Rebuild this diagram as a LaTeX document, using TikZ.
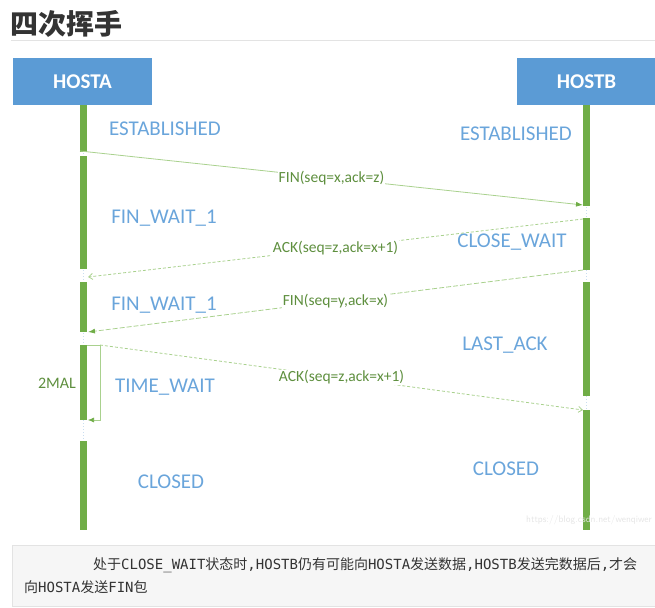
\documentclass[tikz,border=0pt]{standalone}
\usepackage{fontspec}
\setmainfont{Carlito}
\setmonofont{DejaVu Sans Mono}
\newfontfamily\cjk{Noto Sans CJK SC}
\usetikzlibrary{arrows.meta,positioning}
\definecolor{hostblue}{HTML}{5B9BD5}
\definecolor{stateblue}{HTML}{6AA5DB}
\definecolor{lifegreen}{HTML}{70AD47}
\definecolor{msggreen}{HTML}{A9D18E}
\definecolor{labgreen}{HTML}{5E8F3E}
\definecolor{gapblue}{HTML}{C9DDF0}
\definecolor{codebg}{HTML}{F6F6F6}
\definecolor{codeline}{HTML}{E3E3E3}
\tikzset{x=1pt, y=-1pt}
\tikzset{host/.style={fill=hostblue, text=white, inner sep=0pt, minimum height=47pt,
    font=\fontsize{21}{24}\selectfont\bfseries}}
\tikzset{state/.style={text=stateblue, inner sep=0pt, font=\fontsize{21}{24}\selectfont}}
\tikzset{lab/.style={fill=white, text=labgreen, inner sep=1pt, font=\fontsize{15.5}{17}\selectfont}}
\tikzset{life/.style={draw=lifegreen, line width=7pt}}
\tikzset{gap/.style={draw=gapblue, line width=1pt, dotted}}
\tikzset{fin/.style={draw=msggreen, line width=0.8pt, -{Latex[length=7pt,width=5pt,color=lifegreen]}}}
\tikzset{ack/.style={draw=msggreen, line width=0.8pt, dash pattern=on 3pt off 2pt,
    -{Straight Barb[length=4pt,width=6pt,color=msggreen]}}}

\begin{document}
\begin{tikzpicture}
        \useasboundingbox (0,0) rectangle (655,607);
        % title
        \node (title) [anchor=west, text=black!80, inner sep=0pt] at (10,24) {\cjk\bfseries\fontsize{28}{30}\selectfont 四次挥手};
        \draw[codeline] (11,40) -- (655,40);
        % hosts
        \node (ha) [host, minimum width=139pt] at (82.5,81.5) {HOSTA};
        \node (hb) [host, minimum width=139pt] at (586.5,81.5) {HOSTB};
        % lifelines
        \draw[gap] (83.5,105) -- (83.5,530);
        \draw[gap] (586.5,105) -- (586.5,530);
        \foreach \t/\b in {105/152, 156/269, 282/332, 345/420, 441/530}
            \draw[life] (83.5,\t) -- (83.5,\b);
        \foreach \t/\b in {105/206, 218/270, 282/396, 410/530}
            \draw[life] (586.5,\t) -- (586.5,\b);
        % states
        \node (s1) [state] at (165,129) {ESTABLISHED};
        \node (s2) [state] at (516,134) {ESTABLISHED};
        \node (s3) [state] at (164,218) {FIN\_WAIT\_1};
        \node (s4) [state] at (512,242) {CLOSE\_WAIT};
        \node (s5) [state] at (164,305) {FIN\_WAIT\_1};
        \node (s6) [state] at (505,345) {LAST\_ACK};
        \node (s7) [state] at (165,387) {TIME\_WAIT};
        \node (s8) [state] at (171,482) {CLOSED};
        \node (s9) [state] at (506,469) {CLOSED};
        % message ends
        \coordinate (a1) at (80,151);
        \coordinate (b1) at (583,205);
        \coordinate (b2) at (583,219);
        \coordinate (a2) at (88,277);
        \coordinate (b3) at (583,270);
        \coordinate (a3) at (88,332);
        \coordinate (t0) at (87,345);
        \coordinate (t1) at (100,345);
        \coordinate (t2) at (100,420);
        \coordinate (t3) at (88,420);
        \coordinate (b4) at (583,410);
        % messages
        \draw (a1) edge[fin] node[lab] {FIN(seq=x,ack=z)} (b1);
        \draw (b2) edge[ack] node[lab] {ACK(seq=z,ack=x+1)} (a2);
        \draw (b3) edge[fin, dash pattern=on 5pt off 2pt] node[lab] {FIN(seq=y,ack=x)} (a3);
        \draw[msggreen, line width=0.6pt, -{Latex[length=6pt,width=5pt,color=lifegreen]}] (t0) -- (t1) -- (t2) -- (t3);
        \node (tw) [text=labgreen, anchor=east, inner sep=0pt, font=\fontsize{16}{18}\selectfont] at (76,383) {2MAL};
        \draw (t1) edge[ack] node[lab] {ACK(seq=z,ack=x+1)} (b4);
        % watermark
        \node (wm) [text=black!10, anchor=east, inner sep=0pt, font=\sffamily\fontsize{9.5}{10}\selectfont] at (652,520) {https://blog.csdn.net/wenqiwer};
        % note
        \draw[fill=codebg, draw=codeline] (12,545) rectangle (660,606);
        \node (n1) [anchor=west, text=black!80, inner sep=0pt, font=\fontsize{14}{16}\selectfont] at (93,565)
            {\cjk 处于{\ttfamily CLOSE\_WAIT}状态时{\ttfamily ,HOSTB}仍有可能向{\ttfamily HOSTA}发送数据{\ttfamily ,HOSTB}发送完数据后{\ttfamily ,}才会};
        \node (n2) [anchor=west, text=black!80, inner sep=0pt, font=\fontsize{14}{16}\selectfont] at (24,587)
            {\cjk 向{\ttfamily HOSTA}发送{\ttfamily FIN}包};
\end{tikzpicture}
\end{document}
